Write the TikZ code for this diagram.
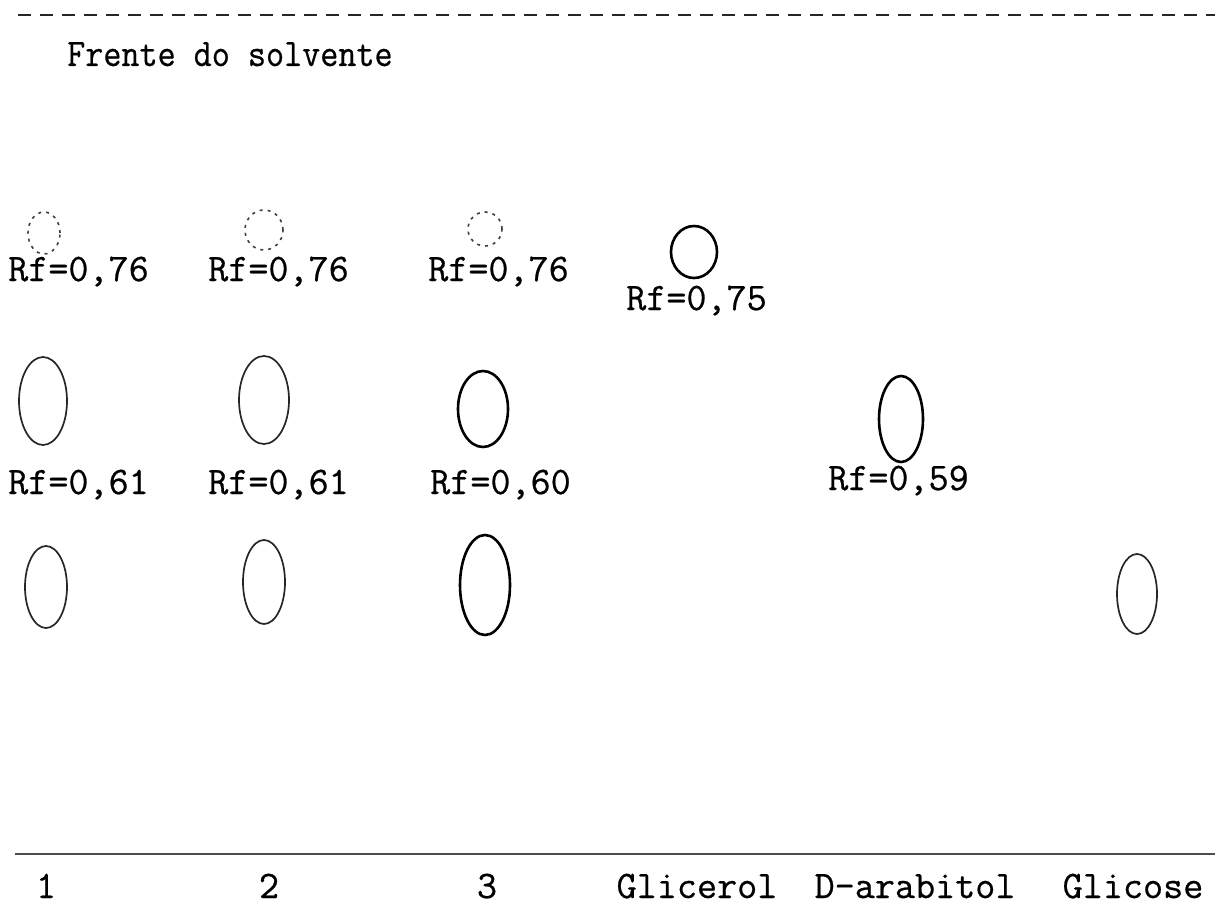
\documentclass[tikz,border=0pt]{standalone}
\usepackage{fontspec}
\setmonofont[FakeBold=0.6]{Latin Modern Mono}
\usetikzlibrary{shapes.geometric}
\begin{document}
\begin{tikzpicture}[x=1pt,y=-1pt,
  typed/.style={font=\fontsize{39}{41}\selectfont\ttfamily\bfseries, inner sep=0pt, anchor=base west},
  lane/.style={font=\fontsize{39}{41}\selectfont\ttfamily\bfseries, inner sep=0pt, anchor=base},
  spot/.style={ellipse, inner sep=0pt, draw},
  faint/.style={spot, draw=black!75, line width=1.6pt, dash pattern=on 3pt off 5pt},
  thin/.style={spot, draw=black!85, line width=1.7pt},
  bold/.style={spot, draw=black, line width=2.6pt},
  frontline/.style={draw=black!85, line width=2pt, dash pattern=on 13pt off 9pt},
  baseline/.style={draw=black!70, line width=1.6pt}]
\useasboundingbox (0,0) rectangle (1215,923);

% solvent front
\coordinate (f0) at (18,15);
\coordinate (f1) at (1215,15);
\draw[frontline] (f0) -- (f1);
\node[typed] (front) at (67,66) {\scalebox{0.9}[1]{Frente do solvente}};

% upper spots (Rf about 0,75)
\node[faint, minimum width=32pt, minimum height=42pt] (a1) at (44,233) {};
\node[faint, minimum width=38pt, minimum height=40pt] (a2) at (264,230) {};
\node[faint, minimum width=34pt, minimum height=34pt] (a3) at (485,229) {};
\node[bold,  minimum width=46pt, minimum height=52pt] (a4) at (694,252) {};
\node[typed] (ra1) at (8,281) {Rf=0,76};
\node[typed] (ra2) at (208,281) {Rf=0,76};
\node[typed] (ra3) at (428,281) {Rf=0,76};
\node[typed] (ra4) at (626,310) {Rf=0,75};

% middle spots (Rf about 0,60)
\node[thin, minimum width=48pt, minimum height=88pt] (b1) at (43,401) {};
\node[thin, minimum width=50pt, minimum height=88pt] (b2) at (264,400) {};
\node[bold, minimum width=50pt, minimum height=76pt] (b3) at (483,409) {};
\node[bold, minimum width=44pt, minimum height=86pt] (b5) at (901,419) {};
\node[typed] (rb1) at (8,494) {Rf=0,61};
\node[typed] (rb2) at (208,494) {Rf=0,61};
\node[typed] (rb3) at (430,494) {Rf=0,60};
\node[typed] (rb5) at (828,490) {Rf=0,59};

% lower spots
\node[thin, minimum width=42pt, minimum height=82pt] (c1) at (46,587) {};
\node[thin, minimum width=42pt, minimum height=84pt] (c2) at (264,582) {};
\node[bold, minimum width=50pt, minimum height=100pt] (c3) at (485,585) {};
\node[thin, minimum width=40pt, minimum height=80pt] (c6) at (1137,594) {};

% origin line and lane labels
\coordinate (o0) at (15,854);
\coordinate (o1) at (1215,854);
\draw[baseline] (o0) -- (o1);
\node[lane] (l1) at (46,898) {1};
\node[lane] (l2) at (269,898) {2};
\node[lane] (l3) at (487,898) {3};
\node[lane] (l4) at (697,898) {Glicerol};
\node[lane] (l5) at (915,898) {D-arabitol};
\node[lane] (l6) at (1133,898) {Glicose};
\end{tikzpicture}
\end{document}
